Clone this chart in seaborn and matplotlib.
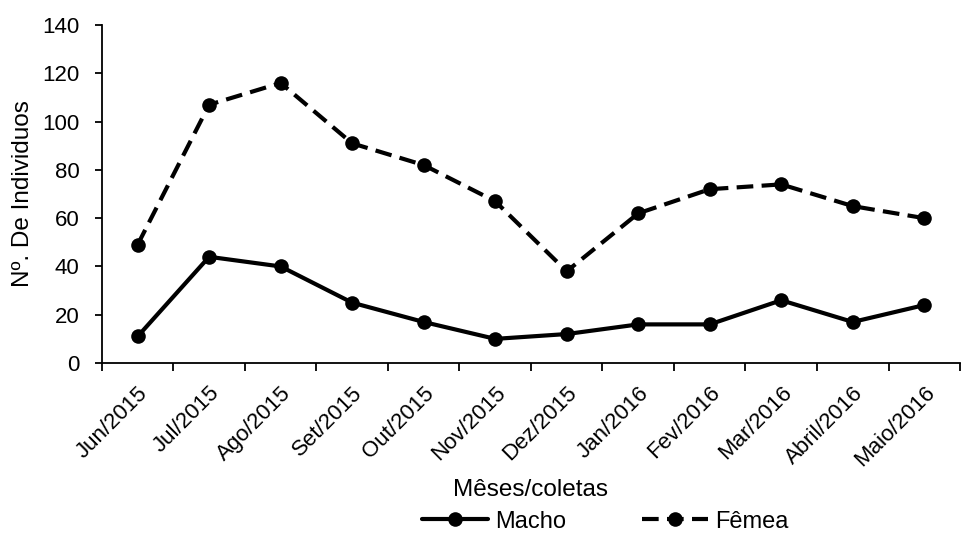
import matplotlib
matplotlib.use("Agg")
import matplotlib.pyplot as plt
import seaborn as sns
import pandas as pd
from matplotlib.ticker import FixedLocator
from matplotlib.lines import Line2D

months = ["Jun/2015", "Jul/2015", "Ago/2015", "Set/2015", "Out/2015", "Nov/2015",
          "Dez/2015", "Jan/2016", "Fev/2016", "Mar/2016", "Abril/2016", "Maio/2016"]
macho = [11, 44, 40, 25, 17, 10, 12, 16, 16, 26, 17, 24]
femea = [49, 107, 116, 91, 82, 67, 38, 62, 72, 74, 65, 60]
y_ticks = [0, 20, 40, 60, 80, 100, 120, 140]

df = pd.DataFrame({
    "idx": list(range(len(months))) * 2,
    "val": macho + femea,
    "Sexo": ["Macho"] * len(months) + ["Fêmea"] * len(months),
})

sns.set_style("white")
plt.rcParams['font.family'] = ['Liberation Sans', 'DejaVu Sans']
plt.rcParams['text.color'] = 'black'
plt.rcParams['axes.labelcolor'] = 'black'
plt.rcParams['xtick.color'] = 'black'
plt.rcParams['ytick.color'] = 'black'

fig = plt.figure(figsize=(9.61, 5.39), dpi=100)
ax = fig.add_axes([0.106, 0.3265, 0.893, 0.627])

DASH = (4, 2)
sns.lineplot(data=df, x="idx", y="val", style="Sexo", color="black",
             markers={"Macho": "o", "Fêmea": "o"},
             dashes={"Macho": "", "Fêmea": DASH},
             linewidth=3, markersize=10.5, markeredgewidth=0, ax=ax, legend=False)

ax.set_xlim(-0.5, len(months) - 0.5)
ax.set_ylim(0, 140)
ax.set_yticks(y_ticks)
ax.set_xticks(range(len(months)))
ax.set_xticklabels(months, rotation=45, ha="right", rotation_mode="anchor", fontsize=16)
ax.xaxis.set_minor_locator(FixedLocator([i - 0.5 for i in range(len(months) + 1)]))
ax.tick_params(axis="x", which="major", length=0, pad=14)
ax.tick_params(axis="x", which="minor", length=6, width=1.3, color="black", direction="out", bottom=True)
ax.tick_params(axis="y", length=5, width=1.3, color="black", direction="out", left=True,
               labelsize=16, pad=11)
for s in ["top", "right"]:
    ax.spines[s].set_visible(False)
for s in ["left", "bottom"]:
    ax.spines[s].set_color("black")
    ax.spines[s].set_linewidth(1.3)

ax.set_xlabel("Mêses/coletas", fontsize=17.5, labelpad=6)
ax.set_ylabel("Nº. De Individuos", fontsize=17.5, labelpad=6)

handles = [Line2D([], [], color="black", lw=3, marker="o", markersize=10.5, markeredgewidth=0),
           Line2D([], [], color="black", lw=3, ls=(0, DASH), marker="o", markersize=10.5,
                  markeredgewidth=0)]
fig.legend(handles, ["Macho", "Fêmea"], loc="center", bbox_to_anchor=(0.63, 0.032),
           ncol=2, frameon=False, fontsize=17, handlelength=2.8, handletextpad=0.3,
           columnspacing=3.2, borderpad=0)

fig.savefig("out.png", dpi=100)
